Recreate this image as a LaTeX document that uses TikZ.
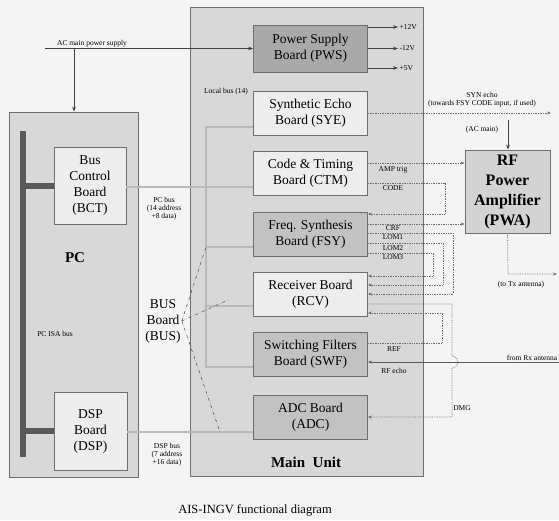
\documentclass[tikz,border=0pt]{standalone}
\usepackage{fontspec}
\setmainfont{Liberation Serif}
\usepackage{xcolor}
\usetikzlibrary{arrows.meta, positioning}

\definecolor{paper}{HTML}{F4F4F4}
\definecolor{unitgray}{HTML}{D8D8D8}
\definecolor{boardlight}{HTML}{EDEDED}
\definecolor{boarddark}{HTML}{C2C2C2}
\definecolor{pwsgray}{HTML}{A9A9A9}
\definecolor{pwagray}{HTML}{D3D3D3}
\definecolor{linegray}{HTML}{6E6E6E}

\newcommand{\boardfont}{\fontsize{13.5}{16}\selectfont}
\newcommand{\tinylabel}{\fontsize{7.5}{8}\selectfont}

\begin{document}
\begin{tikzpicture}[x=1pt, y=-1pt,
  unit/.style={draw=linegray, line width=0.8pt, fill=unitgray, inner sep=0pt},
  board/.style={draw=linegray, line width=0.8pt, fill=boardlight, minimum width=114pt, minimum height=44pt, font=\boardfont, align=center, inner sep=1pt},
  darkboard/.style={board, fill=boarddark},
  lbl/.style={font=\tinylabel, align=center, inner sep=0.5pt},
  arr/.style={-{Stealth[length=5pt]}, line width=0.8pt, black!75},
  sig/.style={-{Stealth[length=4pt]}, densely dotted, line width=0.7pt, linegray},
  bus/.style={line width=1.4pt, gray!55},
  busconn/.style={dash dot, line width=0.6pt, gray!70!black}
]
  \fill[paper] (0,0) rectangle (559,520);
  \useasboundingbox (0,0) rectangle (559,520);

  % enclosures
  \node[unit, minimum width=233pt, minimum height=469pt] (mainunit) at (306.5,241.5) {};
  \node[unit, minimum width=129pt, minimum height=365pt] (pc) at (73.5,294.5) {};
  \node[font=\fontsize{15}{18}\selectfont\bfseries] (mainlbl) at (306,462) {Main\ \ Unit};
  \node[font=\fontsize{15}{18}\selectfont\bfseries] (pclbl) at (75,258) {PC};

  % PC side
  \node[fill=black!65, minimum width=6pt, minimum height=326pt, inner sep=0pt] (isabus) at (23,294) {};
  \node[board, minimum width=72pt, minimum height=77pt] (bct) at (90,185.5) {Bus\\Control\\Board\\(BCT)};
  \node[board, minimum width=73pt, minimum height=78pt] (dsp) at (90.5,431) {DSP\\Board\\(DSP)};
  \draw[line width=6pt, black!65] (isabus.east |- bct.west) -- (bct.west);
  \draw[line width=6pt, black!65] (isabus.east |- dsp.west) -- (dsp.west);
  \node[lbl] (isalbl) at (55,334) {PC ISA bus};

  % main unit boards
  \node[darkboard, fill=pwsgray, minimum height=47pt] (pws) at (310.5,48.5) {Power Supply\\Board (PWS)};
  \node[board] (sye) at (310.5,113) {Synthetic Echo\\Board (SYE)};
  \node[board] (ctm) at (310.5,173) {Code \& Timing\\Board (CTM)};
  \node[darkboard] (fsy) at (310.5,234) {Freq. Synthesis\\Board (FSY)};
  \node[board] (rcv) at (310.5,294.5) {Receiver Board\\(RCV)};
  \node[darkboard] (swf) at (310.5,354.5) {Switching Filters\\Board (SWF)};
  \node[darkboard] (adc) at (310.5,417.5) {ADC Board\\(ADC)};
  \node[board, fill=pwagray, minimum width=85pt, minimum height=83pt, font=\fontsize{16}{20}\selectfont\bfseries] (pwa) at (507.5,191.5) {RF\\Power\\Amplifier\\(PWA)};

  % power supply
  \coordinate (acin) at (45,48.5);
  \coordinate (acdrop) at (74,48.5);
  \draw[arr] (acin) -- (pws.west);
  \draw[arr] (acdrop) -- (acdrop |- pc.north);
  \node[lbl] (aclbl) at (92,44) {AC main power supply};
  \coordinate (vpos12) at (398,27);
  \coordinate (vneg12) at (398,48.5);
  \coordinate (vpos5) at (398,68);
  \draw[arr] (vpos12 -| pws.east) -- (vpos12);
  \draw[arr] (vneg12 -| pws.east) -- (vneg12);
  \draw[arr] (vpos5 -| pws.east) -- (vpos5);
  \node[lbl, right=1pt of vpos12] {+12V};
  \node[lbl, right=1pt of vneg12] {-12V};
  \node[lbl, right=1pt of vpos5] {+5V};

  % local bus and pc buses
  \coordinate (lbsye) at (206,127);
  \coordinate (lbpc) at (206,187);
  \coordinate (lbfsy) at (206,247);
  \coordinate (lbrcv) at (206,306);
  \coordinate (lbswf) at (206,367);
  \coordinate (dspbus) at (220,432);
  \draw[bus] (lbsye -| sye.west) -- (lbsye) -- (lbswf) -- (lbswf -| swf.west);
  \draw[bus] (lbfsy) -- (lbfsy -| fsy.west);
  \draw[bus] (lbrcv) -- (lbrcv -| rcv.west);
  \draw[bus] (lbpc -| bct.east) -- (lbpc -| ctm.west);
  \draw[bus] (dspbus -| dsp.east) -- (dspbus -| adc.west);
  \node[lbl] (lblocal) at (226,92) {Local bus (14)};
  \node[lbl] (pcbuslbl) at (164,209) {PC bus\\(14 address\\+8 data)};
  \node[lbl] (dspbuslbl) at (167,455) {DSP bus\\(7 address\\+16 data)};

  % bus board
  \node[font=\boardfont, align=center, inner sep=1pt] (busbrd) at (163,321) {BUS\\Board\\(BUS)};
  \coordinate (busrcv) at (228,300);
  \draw[busconn] (busbrd.east) -- (lbfsy);
  \draw[busconn] (busbrd.east) -- (busrcv);
  \draw[busconn] (busbrd.east) -- (dspbus);

  % signals
  \coordinate (synout) at (551,113);
  \draw[sig] (sye.east) -- (synout);
  \node[lbl] (synlbl) at (482,100) {SYN echo\\(towards FSY CODE input, if used)};
  \coordinate (acpwa) at (508,120);
  \draw[arr] (acpwa) -- (acpwa |- pwa.north);
  \node[lbl] (acpwalbl) at (482,130) {(AC main)};

  \coordinate (ampy) at (400,163);
  \draw[sig] (ampy -| ctm.east) -- (ampy -| pwa.west);
  \node[lbl] (amplbl) at (393,170) {AMP trig};
  \coordinate (codetop) at (445,183);
  \coordinate (codebot) at (445,214);
  \draw[sig] (codetop -| ctm.east) -- (codetop) -- (codebot) -- (codebot -| fsy.east);
  \node[lbl] (codelbl) at (393,188) {CODE};

  \coordinate (crfy) at (420,224);
  \draw[sig] (crfy -| fsy.east) -- (crfy -| pwa.west);
  \coordinate (lomatop) at (453,233);
  \coordinate (lomabot) at (453,294);
  \coordinate (lombtop) at (443,243);
  \coordinate (lombbot) at (443,285);
  \coordinate (lomctop) at (433,253);
  \coordinate (lomcbot) at (433,276);
  \draw[sig] (lomatop -| fsy.east) -- (lomatop) -- (lomabot) -- (lomabot -| rcv.east);
  \draw[sig] (lombtop -| fsy.east) -- (lombtop) -- (lombbot) -- (lombbot -| rcv.east);
  \draw[sig] (lomctop -| fsy.east) -- (lomctop) -- (lomcbot) -- (lomcbot -| rcv.east);
  \node[lbl] at (393,228) {CRF};
  \node[lbl] at (393,237.5) {LOM1};
  \node[lbl] at (393,248.5) {LOM2};
  \node[lbl] at (393,257) {LOM3};

  \coordinate (reftop) at (442,313);
  \coordinate (refbot) at (442,343);
  \draw[sig] (refbot -| swf.east) -- (refbot) -- (reftop) -- (reftop -| rcv.east);
  \node[lbl] (reflbl) at (394,349) {REF};

  \coordinate (rxin) at (559,362);
  \draw[-{Stealth[length=4pt]}, line width=0.7pt, gray!70!black] (rxin) -- (rxin -| swf.east);
  \node[lbl, anchor=south east] (rxlbl) at (558,361) {from Rx antenna};
  \node[lbl] (rfecholbl) at (394,371) {RF echo};

  \coordinate (dmgtop) at (452,304);
  \coordinate (dmgbot) at (452,417);
  \draw[sig] (dmgtop -| rcv.east) -- (dmgtop) -- (452,356)
    .. controls (460,357) and (460,367) .. (452,368) -- (dmgbot) -- (dmgbot -| adc.east);
  \node[lbl] (dmglbl) at (462,408) {DMG};

  \coordinate (txcorner) at (508,274);
  \coordinate (txout) at (557,274);
  \draw[sig] (pwa.south) -- (txcorner) -- (txout);
  \node[lbl] (txlbl) at (521,285) {(to Tx antenna)};

  \node[font=\fontsize{12.5}{15}\selectfont] (title) at (255,510) {AIS-INGV functional diagram};
\end{tikzpicture}
\end{document}
